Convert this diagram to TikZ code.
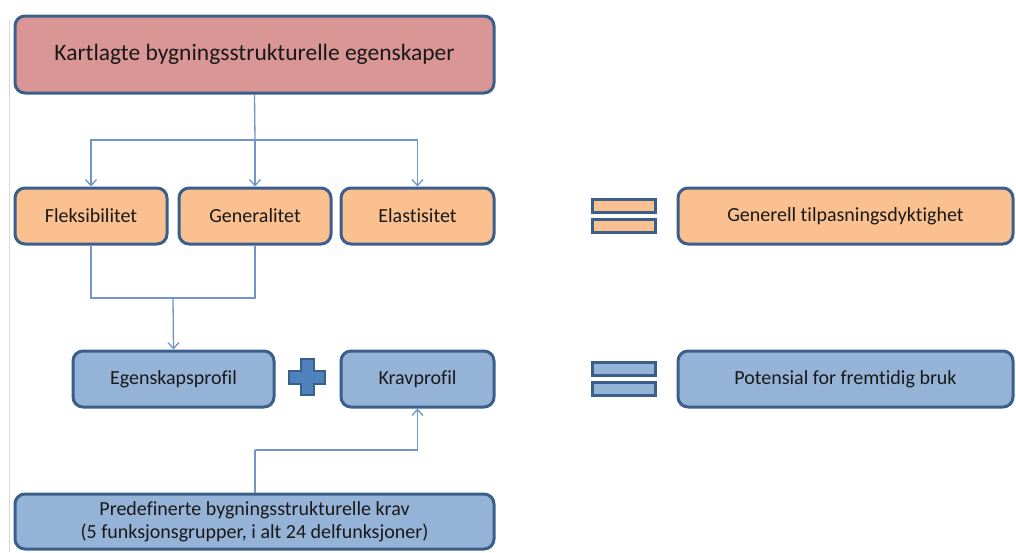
\documentclass[tikz,border=0pt]{standalone}
\usepackage{fontspec}
\setmainfont[Ligatures=NoCommon]{Carlito}
\usetikzlibrary{arrows.meta}
\definecolor{bordc}{HTML}{3A5F8B}
\definecolor{redf}{HTML}{D99694}
\definecolor{orf}{HTML}{FAC090}
\definecolor{bluf}{HTML}{95B3D7}
\definecolor{linec}{HTML}{6F95C9}
\definecolor{plusf}{HTML}{4F81BD}
\tikzset{
  box/.style={draw=bordc, line width=3pt, rounded corners=10pt, align=center, text=black!90, inner sep=0pt},
  redbox/.style={box, fill=redf, font=\fontsize{23.5}{28}\selectfont},
  orbox/.style={box, fill=orf, font=\fontsize{20}{23}\selectfont},
  blubox/.style={box, fill=bluf, font=\fontsize{20}{23}\selectfont},
  conn/.style={draw=linec, line width=1.3pt},
  arr/.style={conn, -{Straight Barb[length=6pt,width=11pt,line width=1.3pt]}},
  eqbar/.style={draw=bordc, line width=3pt, minimum width=63pt, minimum height=13pt, inner sep=0pt},
}
\begin{document}
\begin{tikzpicture}[x=1pt,y=1pt]
\useasboundingbox (0,0) rectangle (1016,-552);
\clip (0,0) rectangle (1016,-552);
\fill[white] (0,0) rectangle (1016,-552);
\draw[black!15, line width=1pt] (9,-20) -- (9,-552);

\node[redbox, minimum width=479pt, minimum height=77pt] (top) at (254.5,-54.5) {Kartlagte bygningsstrukturelle egenskaper};

\node[orbox, minimum width=152pt, minimum height=56pt] (flex) at (91,-216) {Fleksibilitet};
\node[orbox, minimum width=152pt, minimum height=56pt] (gen) at (255,-216) {Generalitet};
\node[orbox, minimum width=153pt, minimum height=56pt] (ela) at (417.5,-216) {Elastisitet};

\node[eqbar, fill=orf] (eq1a) at (623.5,-205.5) {};
\node[eqbar, fill=orf] (eq1b) at (623.5,-226) {};
\node[orbox, minimum width=335pt, minimum height=56pt] (genr) at (845.5,-216) {Generell tilpasningsdyktighet};

\node[blubox, minimum width=201pt, minimum height=56pt] (egen) at (173.5,-379) {Egenskapsprofil};
\node[blubox, minimum width=153pt, minimum height=56pt] (krav) at (417.5,-379) {Kravprofil};

\node[eqbar, fill=bluf] (eq2a) at (623.5,-368.5) {};
\node[eqbar, fill=bluf] (eq2b) at (623.5,-389) {};
\node[blubox, minimum width=335pt, minimum height=56pt] (pot) at (845.5,-379) {Potensial for fremtidig bruk};

\node[blubox, minimum width=479pt, minimum height=55pt] (pre) at (254.5,-521.5) {Predefinerte bygningsstrukturelle krav\\(5 funksjonsgrupper, i alt 24 delfunksjoner)};

% plus sign
\coordinate (pc) at (307,-377);
\draw[draw=bordc, fill=plusf, line width=2pt]
  ([shift={(-6.5,18)}]pc) -- ([shift={(6.5,18)}]pc) -- ([shift={(6.5,6.5)}]pc) -- ([shift={(18,6.5)}]pc)
  -- ([shift={(18,-6.5)}]pc) -- ([shift={(6.5,-6.5)}]pc) -- ([shift={(6.5,-18)}]pc) -- ([shift={(-6.5,-18)}]pc)
  -- ([shift={(-6.5,-6.5)}]pc) -- ([shift={(-18,-6.5)}]pc) -- ([shift={(-18,6.5)}]pc) -- ([shift={(-6.5,6.5)}]pc) -- cycle;

% connectors
\coordinate (j1) at (255,-140);
\draw[conn] (top.south) -- (j1);
\draw[arr] (j1) -| (flex.north);
\draw[arr] (j1) -| (ela.north);
\draw[arr] (j1) -- (gen.north);

\coordinate (j2) at (173,-298);
\draw[conn] (flex.south) |- (j2);
\draw[conn] (gen.south) |- (j2);
\draw[arr] (j2) -- (egen.north);

\coordinate (j3) at (255,-450);
\draw[conn] (pre.north -| j3) -- (j3);
\draw[arr] (j3) -| (krav.south);
\end{tikzpicture}
\end{document}
